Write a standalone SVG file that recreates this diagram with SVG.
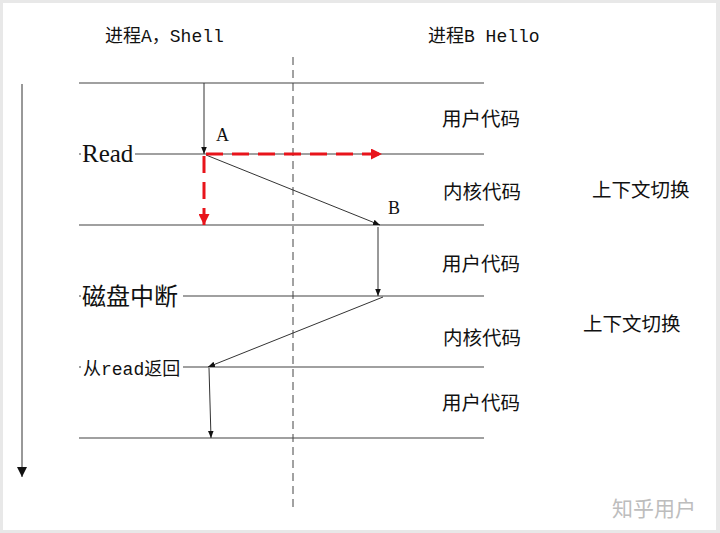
<svg xmlns="http://www.w3.org/2000/svg" width="720" height="533" viewBox="0 0 720 533">
<style>
.lane{stroke:#808080;stroke-width:1.4;fill:none}
.arr{stroke:#333;stroke-width:1;fill:none;marker-end:url(#ah)}
.red{stroke:#e8141b;stroke-width:3;fill:none;stroke-dasharray:17 9}
.cjk{font-family:"Noto Sans CJK SC",sans-serif;fill:#111}
.mono{font-family:"Liberation Mono","Noto Sans CJK SC",monospace;fill:#111}
.serif{font-family:"Liberation Serif","Noto Sans CJK SC",serif;fill:#111}
</style>
<defs>
<marker id="ah" viewBox="0 0 10 10" refX="10" refY="5" markerWidth="7" markerHeight="7" markerUnits="userSpaceOnUse" orient="auto"><path d="M0,1 L10,5 L0,9 z" fill="#111"/></marker>
<marker id="ahL" viewBox="0 0 10 10" refX="10" refY="5" markerWidth="10" markerHeight="10" markerUnits="userSpaceOnUse" orient="auto"><path d="M0,0 L10,5 L0,10 z" fill="#111"/></marker>
<marker id="rh" viewBox="0 0 10 10" refX="10" refY="5" markerWidth="13" markerHeight="11" markerUnits="userSpaceOnUse" orient="auto"><path d="M0,0 L10,5 L0,10 z" fill="#e8141b"/></marker>
</defs>
<rect x="0" y="0" width="720" height="533" fill="#e8e8e8"/>
<rect x="3" y="3" width="713" height="527" fill="#fff"/>
<g id="lanes">
<line class="lane" x1="79" y1="83" x2="484" y2="83"/>
<line class="lane" x1="79" y1="154" x2="484" y2="154"/>
<line class="lane" x1="79" y1="225" x2="484" y2="225"/>
<line class="lane" x1="79" y1="296" x2="484" y2="296"/>
<line class="lane" x1="79" y1="367" x2="484" y2="367"/>
<line class="lane" x1="79" y1="438" x2="484" y2="438"/>
<line x1="293" y1="57" x2="293" y2="512" stroke="#444" stroke-width="1" stroke-dasharray="8 5"/>
</g>
<g id="connectors">
<line x1="22" y1="84" x2="22" y2="477" stroke="#333" stroke-width="1" marker-end="url(#ahL)"/>
<line class="arr" x1="204" y1="83" x2="204" y2="154"/>
<line class="arr" x1="206" y1="155" x2="380" y2="225"/>
<line class="arr" x1="378" y1="227" x2="378" y2="296"/>
<line class="arr" x1="383" y1="297" x2="208" y2="367"/>
<line class="arr" x1="209" y1="368" x2="211" y2="438"/>
<line class="red" x1="206" y1="154" x2="382" y2="154" marker-end="url(#rh)"/>
<line class="red" x1="204" y1="156" x2="204" y2="225" marker-end="url(#rh)"/>
</g>
<g id="header-a"><text class="mono" x="105" y="42" font-size="18"><tspan class="cjk">进程</tspan>A<tspan class="cjk">，</tspan>Shell</text></g>
<g id="header-b"><text class="mono" x="428" y="42" font-size="18"><tspan class="cjk">进程</tspan>B Hello</text></g>
<g id="node-read"><rect x="81" y="142" width="54" height="25" fill="#fff"/><text class="serif" x="82" y="162" font-size="25">Read</text></g>
<g id="node-disk"><rect x="81" y="283" width="102" height="26" fill="#fff"/><text class="cjk" x="82" y="305" font-size="24">磁盘中断</text></g>
<g id="node-return"><rect x="81" y="356" width="102" height="22" fill="#fff"/><text class="mono" x="83" y="375" font-size="18"><tspan class="cjk">从</tspan>read<tspan class="cjk">返回</tspan></text></g>
<g id="label-a"><text class="serif" x="216" y="141" font-size="18">A</text></g>
<g id="label-b"><text class="serif" x="388" y="214" font-size="18">B</text></g>
<g id="zones" font-size="19.5">
<text class="cjk" x="442" y="126">用户代码</text>
<text class="cjk" x="443" y="199">内核代码</text>
<text class="cjk" x="442" y="271">用户代码</text>
<text class="cjk" x="443" y="345">内核代码</text>
<text class="cjk" x="442" y="410">用户代码</text>
</g>
<g id="switch" font-size="19.5">
<text class="cjk" x="592" y="197">上下文切换</text>
<text class="cjk" x="583" y="331">上下文切换</text>
</g>
<text x="612" y="516" font-size="21" font-family="Noto Sans CJK SC,sans-serif" fill="#bdbdbd">知乎用户</text>
</svg>
